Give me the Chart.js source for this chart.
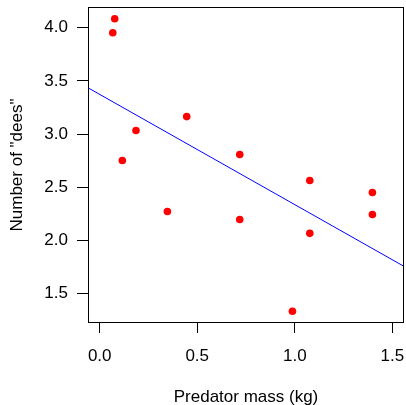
<!DOCTYPE html>
<html>
<head>
<meta charset="utf-8">
<script src="https://cdn.jsdelivr.net/npm/chart.js@4"></script>
<style>
  html, body { margin: 0; padding: 0; background: #fff; overflow: hidden; }
  #wrap { width: 406px; height: 405px; }
</style>
</head>
<body>
<div id="wrap"><canvas id="dees"></canvas></div>
<script>
// predator mass (kg) and number of "dees"
const mass = [0.077, 0.067, 0.116, 0.186, 0.347, 0.446, 0.718, 0.718, 0.988, 1.077, 1.077, 1.398, 1.398];
const dees = [4.085, 3.953, 2.751, 3.033, 2.272, 3.164, 2.808, 2.197, 1.333, 2.563, 2.066, 2.451, 2.244];

const xTicks = [0, 0.5, 1.0, 1.5];
const yTicks = [1.5, 2.0, 2.5, 3.0, 3.5, 4.0];
const xLim = [-0.06, 1.56];
const yLim = [1.223, 4.195];

// least squares fit, like abline(lm(dees ~ mass))
const fit = (xs, ys) => {
  const n = xs.length;
  const mx = xs.reduce((a, b) => a + b, 0) / n;
  const my = ys.reduce((a, b) => a + b, 0) / n;
  let sxy = 0, sxx = 0;
  xs.forEach((x, i) => {
    sxy += (x - mx) * (ys[i] - my);
    sxx += (x - mx) * (x - mx);
  });
  const slope = sxy / sxx;
  return { a: my - slope * mx, b: slope };
};

const lm = fit(mass, dees);
const lineData = xLim.map(x => ({ x: x, y: lm.a + lm.b * x }));
const points = mass.map((m, i) => ({ x: m, y: dees[i] }));

const font = { family: 'Liberation Sans, Arial, sans-serif', size: 17 };

const boxPlugin = {
  id: 'box',
  afterDraw(chart) {
    const { ctx, chartArea } = chart;
    ctx.save();
    ctx.strokeStyle = '#000';
    ctx.lineWidth = 1;
    ctx.strokeRect(chartArea.left + 0.5, chartArea.top + 0.5,
      chartArea.right - chartArea.left - 1, chartArea.bottom - chartArea.top - 1);
    ctx.restore();
  }
};

// no auto padding from overflowing tick labels
const noPad = s => {
  s.paddingLeft = 0; s.paddingRight = 0; s.paddingTop = 0; s.paddingBottom = 0;
};

new Chart(document.getElementById('dees'), {
  type: 'scatter',
  data: {
    datasets: [
      {
        data: points,
        backgroundColor: '#ff0000',
        borderColor: '#ff0000',
        pointRadius: 3.8,
        pointBorderWidth: 0
      },
      {
        type: 'line',
        data: lineData,
        borderColor: '#0000ff',
        borderWidth: 1,
        pointRadius: 0,
        fill: false
      }
    ]
  },
  options: {
    responsive: true,
    maintainAspectRatio: false,
    animation: false,
    layout: { autoPadding: false, padding: { left: 0, right: 2, top: 7, bottom: 0 } },
    plugins: { legend: { display: false }, tooltip: { enabled: false } },
    scales: {
      x: {
        type: 'linear',
        min: xLim[0],
        max: xLim[1],
        afterBuildTicks: s => { s.ticks = xTicks.map(v => ({ value: v })); },
        afterFit: s => { s.height = 82; noPad(s); },
        border: { display: false },
        grid: { drawOnChartArea: false, drawTicks: true, tickLength: 10, tickColor: '#000', tickWidth: 1 },
        ticks: { color: '#000', font: font, padding: 13, maxRotation: 0,
          callback: v => v.toFixed(1) },
        title: { display: true, text: 'Predator mass (kg)', color: '#000', font: font, padding: { top: 0, bottom: -3 } }
      },
      y: {
        type: 'linear',
        min: yLim[0],
        max: yLim[1],
        afterBuildTicks: s => { s.ticks = yTicks.map(v => ({ value: v })); },
        afterFit: s => { s.width = 88; noPad(s); },
        border: { display: false },
        grid: { drawOnChartArea: false, drawTicks: true, tickLength: 11, tickColor: '#000', tickWidth: 1 },
        ticks: { color: '#000', font: font, padding: 9,
          callback: v => v.toFixed(1) },
        title: { display: true, text: 'Number of "dees"', color: '#000', font: font, padding: { top: 7, bottom: 0 } }
      }
    }
  },
  plugins: [boxPlugin]
});
</script>
</body>
</html>
